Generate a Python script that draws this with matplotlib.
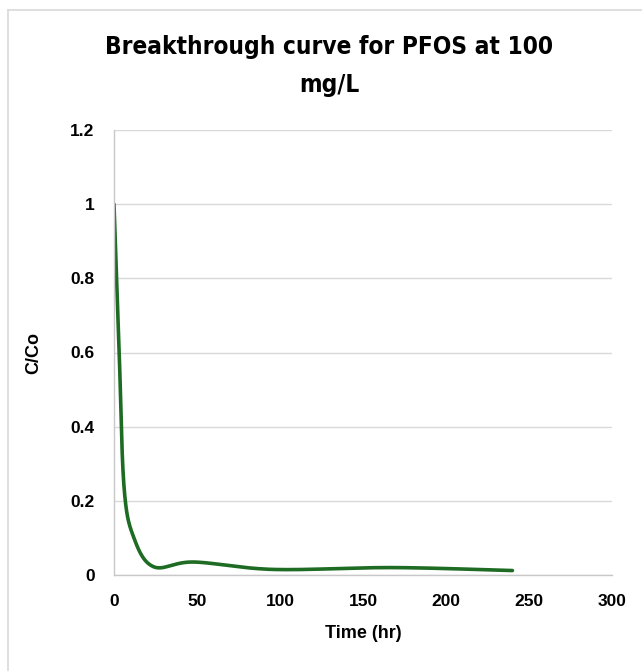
import numpy as np
import matplotlib
matplotlib.use("Agg")
import matplotlib.pyplot as plt
from matplotlib.lines import Line2D

# data (time in hr, C/Co)
time_hr = [0, 3, 6, 12, 24, 48, 96, 168, 240]
c_co = [1.0, 0.62, 0.24, 0.1, 0.022, 0.035, 0.015, 0.02, 0.012]

x_ticks = [0, 50, 100, 150, 200, 250, 300]
y_ticks = [0, 0.2, 0.4, 0.6, 0.8, 1.0, 1.2]
y_labels = ["0", "0.2", "0.4", "0.6", "0.8", "1", "1.2"]

W, H = 642, 671
ax_left, ax_right, ax_top, ax_bottom = 114, 612, 130, 575


def excel_smooth(xs, ys, sx, sy, n=40):
    # Bezier smoothing like Excel (control points at 1/6 of neighbour chord), done in pixel space
    px = np.array(xs, float) * sx
    py = np.array(ys, float) * sy
    P = np.column_stack([px, py])
    out = []
    for i in range(len(P) - 1):
        p0 = P[i - 1] if i > 0 else P[i]
        p1, p2 = P[i], P[i + 1]
        p3 = P[i + 2] if i + 2 < len(P) else P[i + 1]
        c1 = p1 + (p2 - p0) / 6
        c2 = p2 - (p3 - p1) / 6
        t = np.linspace(0, 1, n)[:, None]
        seg = (1 - t) ** 3 * p1 + 3 * (1 - t) ** 2 * t * c1 + 3 * (1 - t) * t ** 2 * c2 + t ** 3 * p2
        out.append(seg if i == 0 else seg[1:])
    out = np.vstack(out)
    return out[:, 0] / sx, out[:, 1] / sy


fig = plt.figure(figsize=(W / 100, H / 100), dpi=100)
ax = fig.add_axes([ax_left / W, 1 - ax_bottom / H, (ax_right - ax_left) / W, (ax_bottom - ax_top) / H])

sx = (ax_right - ax_left) / 300
sy = (ax_bottom - ax_top) / 1.2
xs, ys = excel_smooth(time_hr, c_co, sx, sy)
ax.plot(xs, ys, color="#1e6b24", lw=2.6, solid_capstyle="round")

ax.set_xlim(0, 300)
ax.set_ylim(0, 1.2)
ax.set_xticks(x_ticks)
ax.set_yticks(y_ticks)
ax.set_yticklabels(y_labels)
ax.grid(axis="y", color="#d9d9d9", lw=1)
ax.set_axisbelow(True)
for s in ["top", "right"]:
    ax.spines[s].set_visible(False)
for s in ["left", "bottom"]:
    ax.spines[s].set_color("#c8c8c8")
    ax.spines[s].set_linewidth(1)
ax.tick_params(length=0, pad=14, labelsize=12.5)
for lab in ax.get_xticklabels() + ax.get_yticklabels():
    lab.set_fontweight("bold")
    lab.set_family(["Liberation Sans", "DejaVu Sans"])

ax.set_xlabel("Time (hr)", fontsize=13, fontweight="bold", family=["Liberation Sans", "DejaVu Sans"], labelpad=11)
ax.set_ylabel("C/Co", fontsize=13, fontweight="bold", family=["Liberation Sans", "DejaVu Sans"], labelpad=20)

fig.text(329 / W, 1 - 66 / H, "Breakthrough curve for PFOS at 100\nmg/L", ha="center", va="center",
         fontsize=17.5, fontweight="bold", fontstretch="condensed", linespacing=1.72,
         family=["DejaVu Sans"])

# chart border (only left and top visible in the crop)
fig.add_artist(Line2D([8 / W, 8 / W], [0, 1 - 10 / H], color="#d9d9d9", lw=1.2, transform=fig.transFigure))
fig.add_artist(Line2D([8 / W, 1], [1 - 10 / H, 1 - 10 / H], color="#d9d9d9", lw=1.2, transform=fig.transFigure))

fig.savefig("out.png", dpi=100)
